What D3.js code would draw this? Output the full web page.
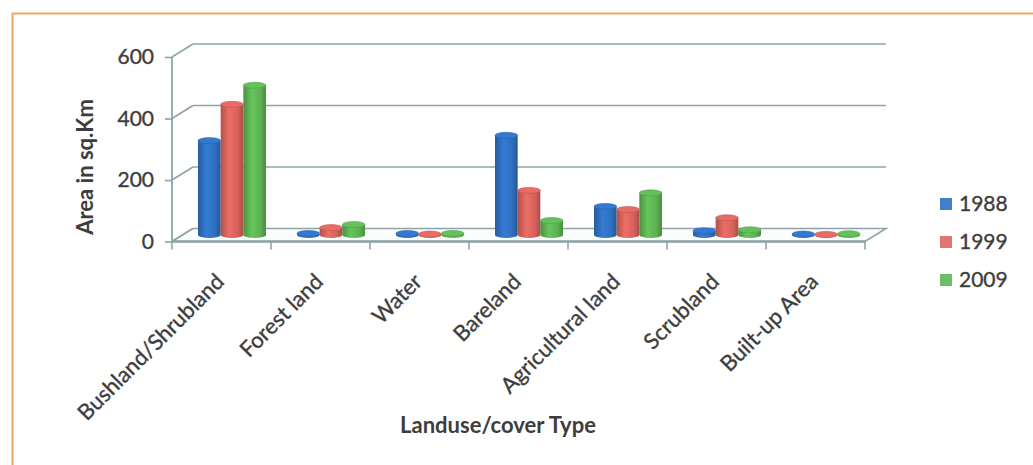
<!DOCTYPE html>
<html>
<head>
<meta charset="utf-8">
<script src="https://cdn.jsdelivr.net/npm/d3@7/dist/d3.min.js"></script>
<style>
  html, body { margin: 0; padding: 0; background: #fff; }
  svg { display: block; }
  text { font-family: Lato, "Open Sans", sans-serif; fill: #3d3d3d; }
  .soft { stroke: #3d3d3d; stroke-width: 0.35px; }
</style>
</head>
<body>
<svg id="chart" width="1033" height="465"></svg>
<script>
// Land use / land cover area by class and year (sq. km)
const categories = ["Bushland/Shrubland", "Forest land", "Water", "Bareland", "Agricultural land", "Scrubland", "Built-up Area"];
const years = ["1988", "1999", "2009"];
const values1988 = [307, 5, 5, 324, 93, 14, 3];
const values1999 = [425, 24, 3, 145, 83, 56, 2];
const values2009 = [487, 34, 5, 47, 137, 17, 4];
const yTicks = [0, 200, 400, 600];

const seriesValues = [values1988, values1999, values2009];
const baseColors = ["#2f6fbf", "#d6625c", "#5cb152"];
const legendColors = ["#3f80c6", "#e27474", "#6dbc6a"];

const svg = d3.select("#chart");
svg.append("rect").attr("width", 1033).attr("height", 465).attr("fill", "#fff");

// Frame around the chart area
svg.append("path")
  .attr("d", "M12.5,465 V13.5 H1033")
  .attr("fill", "none").attr("stroke", "#f0a566").attr("stroke-width", 2);

// 3D projection: front plane plus a depth offset towards the back wall
const depth = { dx: 21, dy: -13 };
const x = d3.scaleBand().domain(categories).range([172, 865]).paddingInner(0).paddingOuter(0);
const y = d3.scaleLinear().domain([0, 600]).range([241.5, 57]);
const inner = d3.scaleBand().domain(years).range([0, 68]).padding(0);

const gridColor = "#8ea3a9";
const g = svg.append("g");

// Back wall gridlines and the left side wall diagonals
yTicks.forEach(t => {
  const yf = y(t), yb = y(t) + depth.dy;
  if (t > 0) {
    g.append("line")
      .attr("x1", x.range()[0] + depth.dx).attr("x2", x.range()[1] + depth.dx)
      .attr("y1", yb).attr("y2", yb)
      .attr("stroke", gridColor).attr("stroke-width", 1.6);
  }
  g.append("line")
    .attr("x1", x.range()[0]).attr("y1", yf)
    .attr("x2", x.range()[0] + depth.dx).attr("y2", yb)
    .attr("stroke", gridColor).attr("stroke-width", 1.6);
});

// Floor
const x0 = x.range()[0], x1 = x.range()[1], y0 = y(0);
g.append("path")
  .attr("d", `M${x0},${y0} L${x0 + depth.dx},${y0 + depth.dy} L${x1 + depth.dx},${y0 + depth.dy} L${x1},${y0} Z`)
  .attr("fill", "#fbfcfc").attr("stroke", gridColor).attr("stroke-width", 1.6);

// Vertical value axis
g.append("line")
  .attr("x1", x0).attr("x2", x0).attr("y1", y(600)).attr("y2", y0)
  .attr("stroke", gridColor).attr("stroke-width", 1.8);

// Value axis ticks and labels
const yAxis = d3.axisLeft(y).tickValues(yTicks).tickSize(7).tickPadding(11).tickFormat(d3.format("d"));
const yAxisG = svg.append("g").attr("transform", `translate(${x0},0)`).call(yAxis);
yAxisG.select(".domain").remove();
yAxisG.selectAll(".tick line").attr("stroke", gridColor).attr("stroke-width", 1.6);
yAxisG.selectAll(".tick text")
  .attr("class", "soft")
  .attr("font-size", 21).attr("font-family", "Lato, sans-serif").attr("fill", "#3d3d3d");

// Category axis: front edge, ticks at band boundaries
g.append("line")
  .attr("x1", x0).attr("x2", x1).attr("y1", y0).attr("y2", y0)
  .attr("stroke", gridColor).attr("stroke-width", 2.6);
const boundaries = categories.map(c => x(c)).concat([x1]);
g.selectAll(".xtick").data(boundaries).enter().append("line")
  .attr("x1", d => d).attr("x2", d => d).attr("y1", y0).attr("y2", y0 + 8)
  .attr("stroke", gridColor).attr("stroke-width", 1.6);

// Cylinder shading gradients
const defs = svg.append("defs");
baseColors.forEach((c, i) => {
  const base = d3.color(c);
  const grad = defs.append("linearGradient").attr("id", "cyl" + i)
    .attr("x1", 0).attr("x2", 1).attr("y1", 0).attr("y2", 0);
  grad.append("stop").attr("offset", 0).attr("stop-color", base.darker(0.55));
  grad.append("stop").attr("offset", 0.38).attr("stop-color", base.brighter(0.3));
  grad.append("stop").attr("offset", 0.75).attr("stop-color", base);
  grad.append("stop").attr("offset", 1).attr("stop-color", base.darker(0.65));
});

// Cylinders sit in the middle of the depth
const mid = { dx: depth.dx / 2, dy: depth.dy / 2 };
const ry = 3;
const bars = g.append("g");
categories.forEach((cat, ci) => {
  const groupStart = x(cat) + x.bandwidth() / 2 - inner.range()[1] / 2 + mid.dx;
  years.forEach((yr, si) => {
    const v = seriesValues[si][ci];
    const w = inner.bandwidth();
    const left = groupStart + inner(yr);
    const right = left + w;
    const rx = w / 2;
    const yBase = y(0) + mid.dy;
    const yTop = y(v) + mid.dy;
    bars.append("path")
      .attr("d", `M${left},${yTop} L${left},${yBase} A${rx},${ry} 0 0 0 ${right},${yBase} L${right},${yTop} Z`)
      .attr("fill", `url(#cyl${si})`);
    bars.append("ellipse")
      .attr("cx", left + rx).attr("cy", yTop).attr("rx", rx).attr("ry", ry)
      .attr("fill", d3.color(baseColors[si]).brighter(0.25))
      .attr("stroke", d3.color(baseColors[si]).darker(0.3)).attr("stroke-width", 0.6);
  });
});

// Category labels, rotated
svg.append("g").selectAll("text").data(categories).enter().append("text")
  .attr("class", "soft")
  .attr("transform", d => `translate(${x(d) + x.bandwidth() / 2 + 4},${283}) rotate(-45)`)
  .attr("text-anchor", "end")
  .attr("font-size", 22)
  .text(d => d);

// Axis titles
svg.append("text")
  .attr("transform", "translate(93,167) rotate(-90)")
  .attr("text-anchor", "middle").attr("font-size", 22).attr("font-weight", "bold")
  .text("Area in sq.Km");
svg.append("text")
  .attr("x", 498).attr("y", 433)
  .attr("text-anchor", "middle").attr("font-size", 22).attr("font-weight", "bold")
  .text("Landuse/cover Type");

// Legend
const legend = svg.append("g").attr("transform", "translate(940,198)");
years.forEach((yr, i) => {
  legend.append("rect").attr("x", 0).attr("y", i * 38).attr("width", 12).attr("height", 12)
    .attr("fill", legendColors[i]);
  legend.append("text").attr("class", "soft").attr("x", 19).attr("y", i * 38 + 12.5)
    .attr("font-size", 21).text(yr);
});
</script>
</body>
</html>
